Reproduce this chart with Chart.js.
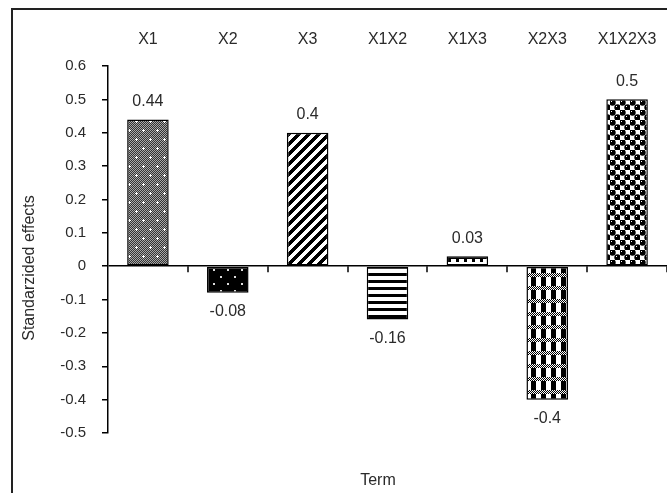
<!DOCTYPE html>
<html>
<head>
<meta charset="utf-8">
<script src="https://cdn.jsdelivr.net/npm/chart.js@4/dist/chart.umd.min.js"></script>
<style>
  html, body { margin: 0; padding: 0; background: #fff; }
  #wrap { width: 667px; height: 493px; position: relative; }
</style>
</head>
<body>
<div id="wrap"><canvas id="c" width="667" height="493"></canvas></div>
<script>
// Terms of the model and their standardized effects
const terms = ['X1', 'X2', 'X3', 'X1X2', 'X1X3', 'X2X3', 'X1X2X3'];
const effects = [0.44, -0.08, 0.4, -0.16, 0.03, -0.4, 0.5];
const effectLabels = ['0.44', '-0.08', '0.4', '-0.16', '0.03', '-0.4', '0.5'];
const yMin = -0.5;
const yMax = 0.6;
const yStep = 0.1;
const xTitle = 'Term';
const yTitle = 'Standarzided effects';

const FONT = '"Liberation Sans", Arial, sans-serif';
const INK = '#2a2a2a';

// ---- monochrome fill patterns, one per bar ----
function makeTile(w, h, draw) {
  const c = document.createElement('canvas');
  c.width = w; c.height = h;
  const g = c.getContext('2d');
  g.fillStyle = '#fff';
  g.fillRect(0, 0, w, h);
  draw(g, w, h);
  return g.createPattern(c, 'repeat');
}
function dot(g, x, y, col, s) { g.fillStyle = col; g.fillRect(x, y, s || 1, s || 1); }

const patterns = [
  // grey stipple with white specks
  makeTile(14, 18, (g, w, h) => {
    for (let y = 0; y < h; y++) for (let x = 0; x < w; x++)
      dot(g, x, y, (x + y) % 2 ? '#333' : '#a8a8a8');
    [[3, 4], [10, 13]].forEach(([cx, cy]) => {
      dot(g, cx, cy, '#fff'); dot(g, cx - 1, cy, '#fff'); dot(g, cx + 1, cy, '#fff');
      dot(g, cx, cy - 1, '#fff'); dot(g, cx, cy + 1, '#fff');
    });
  }),
  // black with sparse white dots
  makeTile(14, 14, (g, w, h) => {
    g.fillStyle = '#000'; g.fillRect(0, 0, w, h);
    dot(g, 3, 3, '#ddd', 2); dot(g, 10, 10, '#ddd', 2);
  }),
  // forward diagonal stripes
  makeTile(10, 10, (g, w, h) => {
    for (let y = 0; y < h; y++) for (let x = 0; x < w; x++)
      if ((x + y) % 10 < 5) dot(g, x, y, '#000');
  }),
  // horizontal stripes
  makeTile(4, 7, (g, w) => {
    g.fillStyle = '#000'; g.fillRect(0, 0, w, 3);
  }),
  // crenellated band
  makeTile(8, 8, (g) => {
    g.fillStyle = '#000';
    g.fillRect(0, 1, 8, 2);
    g.fillRect(0, 3, 3, 3);
    g.fillRect(5, 0, 1, 1);
  }),
  // black blocks with grey bands
  makeTile(10, 13, (g, w, h) => {
    for (let y = 0; y < 4; y++) for (let x = 0; x < w; x++)
      dot(g, x, y, (x + y) % 2 ? '#000' : '#fff');
    g.fillStyle = '#000'; g.fillRect(1, 4, 5, 9);
  }),
  // black spheres
  makeTile(10, 10, (g) => {
    g.fillStyle = '#000';
    [[2.5, 2.5], [7.5, 7.5]].forEach(([cx, cy]) => {
      g.beginPath(); g.arc(cx, cy, 3.2, 0, Math.PI * 2); g.fill();
    });
    dot(g, 1, 1, '#fff'); dot(g, 6, 6, '#fff');
  })
];

// ---- decorations drawn from the chart's scales ----
const decor = {
  id: 'decor',
  beforeDraw(chart) {
    const ctx = chart.ctx;
    ctx.save();
    ctx.fillStyle = '#fff';
    ctx.fillRect(0, 0, chart.width, chart.height);
    // outer frame
    ctx.strokeStyle = '#222';
    ctx.lineWidth = 2;
    ctx.strokeRect(12, 9, chart.width + 20, chart.height + 20);
    ctx.restore();
  },
  afterDatasetsDraw(chart) {
    const ctx = chart.ctx;
    const xs = chart.scales.x;
    const ys = chart.scales.y;
    const y0 = ys.getPixelForValue(0);
    ctx.save();
    // category separators hanging below the zero line
    ctx.strokeStyle = '#000';
    ctx.lineWidth = 1.5;
    for (let i = 0; i < terms.length; i++) {
      const a = xs.getPixelForValue(i);
      const b = i + 1 < terms.length ? xs.getPixelForValue(i + 1) : 2 * a - xs.getPixelForValue(i - 1);
      const bx = Math.round((a + b) / 2);
      ctx.beginPath(); ctx.moveTo(bx, y0); ctx.lineTo(bx, y0 + 6); ctx.stroke();
    }
    // value labels
    ctx.fillStyle = INK;
    ctx.font = '16px ' + FONT;
    ctx.textAlign = 'center';
    ctx.textBaseline = 'middle';
    const meta = chart.getDatasetMeta(0);
    meta.data.forEach((bar, i) => {
      const v = effects[i];
      const yp = ys.getPixelForValue(v);
      ctx.fillText(effectLabels[i], bar.x, v >= 0 ? yp - 18 : yp + 19);
    });
    // axis titles
    ctx.font = '16px ' + FONT;
    ctx.fillText(xTitle, 378, 481);
    ctx.translate(30, 268);
    ctx.rotate(-Math.PI / 2);
    ctx.fillText(yTitle, 0, 0);
    ctx.restore();
  }
};

new Chart(document.getElementById('c'), {
  type: 'bar',
  data: {
    labels: terms,
    datasets: [{
      data: effects,
      backgroundColor: patterns,
      borderColor: '#000',
      borderWidth: 1.5,
      borderSkipped: false,
      barPercentage: 0.52,
      categoryPercentage: 1.0
    }]
  },
  options: {
    responsive: false,
    animation: false,
    devicePixelRatio: 1,
    layout: { padding: { left: 0, right: 0, top: 0, bottom: 60 } },
    plugins: { legend: { display: false }, tooltip: { enabled: false } },
    scales: {
      x: {
        position: 'top',
        grid: { display: false, drawTicks: true, tickLength: 14 },
        border: { display: false },
        ticks: { color: INK, font: { family: FONT, size: 16 }, padding: 3, maxRotation: 0, autoSkip: false },
        afterFit(s) { s.height = 66; }
      },
      y: {
        min: yMin,
        max: yMax,
        grid: {
          drawOnChartArea: true,
          color: (c) => (c.tick && Math.abs(c.tick.value) < 1e-9 ? '#000' : 'rgba(0,0,0,0)'),
          lineWidth: 1.5,
          tickColor: '#000',
          tickLength: 6,
          tickWidth: 1.5
        },
        border: { display: true, color: '#000', width: 1.5 },
        ticks: {
          stepSize: yStep,
          color: INK,
          font: { family: FONT, size: 15 },
          padding: 16,
          callback: (v) => (Math.abs(v) < 1e-9 ? '0' : (Math.round(v * 10) / 10).toString())
        },
        afterFit(s) { s.width = 108; }
      }
    }
  },
  plugins: [decor]
});
</script>
</body>
</html>
